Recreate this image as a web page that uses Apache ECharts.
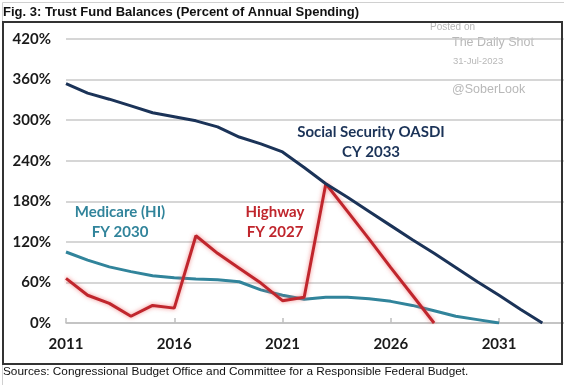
<!DOCTYPE html>
<html>
<head>
<meta charset="utf-8">
<script src="https://cdn.jsdelivr.net/npm/echarts@6/dist/echarts.min.js"></script>
<style>
html,body{margin:0;padding:0;background:#fff;}
#c{width:564px;height:385px;}
</style>
</head>
<body>
<div id="c"></div>
<script>
const years = ['2011','2012','2013','2014','2015','2016','2017','2018','2019','2020','2021','2022','2023','2024','2025','2026','2027','2028','2029','2030','2031','2032','2033','2034'];
const socialSecurity = [354,340,331,321,311,305,299,290,275,265,253,230,206,186,165,144,123,103,82,61,41,20,0,null];
const medicare = [105,93,83,76,70,67,65,64,61,49,41,35,38,38,36,32,26,18,10,5,0,null,null,null];
const highway = [66,41,29,10,26,22,129,103,81,59,33,38,206,165,124,82,41,0,null,null,null,null,null,null];
const yTicks = [0,60,120,180,240,300,360,420];

const chart = echarts.init(document.getElementById('c'), null, {renderer:'canvas'});
const axisFont = 'Lato, "Open Sans", sans-serif';
chart.setOption({
  animation:false,
  backgroundColor:'#fff',
  grid:{left:66, right:0, top:39, bottom:62},
  xAxis:{
    type:'category', data:years, boundaryGap:false,
    axisLine:{show:true, lineStyle:{color:'#bfbfbf', width:1.5}},
    axisTick:{show:true, inside:true, length:5, interval:4, lineStyle:{color:'#bfbfbf', width:1.5}},
    axisLabel:{interval:4, color:'#1a1a1a', fontFamily:axisFont, fontWeight:'bold', fontSize:15, margin:14},
    splitLine:{show:false}
  },
  yAxis:{
    type:'value', min:yTicks[0], max:yTicks[yTicks.length-1], interval:60,
    axisLine:{show:false}, axisTick:{show:false},
    axisLabel:{formatter:'{value}%', color:'#1a1a1a', fontFamily:axisFont, fontWeight:'bold', fontSize:15, margin:15},
    splitLine:{lineStyle:{color:'#c8c8c8', width:1.5}}
  },
  series:[
    {name:'Medicare (HI)', type:'line', data:medicare, symbol:'none', smooth:false,
     lineStyle:{color:'#31849b', width:3}},
    {name:'Highway', type:'line', data:highway, symbol:'none',
     lineStyle:{color:'#c0262d', width:3, shadowColor:'rgba(235,90,90,0.7)', shadowBlur:4}},
    {name:'Social Security OASDI', type:'line', data:socialSecurity, symbol:'none',
     lineStyle:{color:'#1b3358', width:3}}
  ],
  graphic:[
    {type:'rect', left:0, top:0, shape:{x:0.5,y:0.5,width:563,height:384}, style:{fill:null, stroke:'#d0d0d0', lineWidth:1}, silent:true},
    {type:'rect', shape:{x:3,y:22,width:559,height:342}, style:{fill:null, stroke:'#333', lineWidth:2}, silent:true, z:100},
    {type:'text', x:3, y:6, style:{text:'Fig. 3: Trust Fund Balances (Percent of Annual Spending)', font:'bold 13px "Liberation Sans", Arial, sans-serif', fill:'#111'}},
    {type:'text', x:3, y:366, style:{text:'Sources: Congressional Budget Office and Committee for a Responsible Federal Budget.', font:'11.8px "Liberation Sans", Arial, sans-serif', fill:'#111'}},
    {type:'text', x:430, y:22, style:{text:'Posted on', font:'10px "Liberation Sans", Arial, sans-serif', fill:'#b8b8b8'}},
    {type:'text', x:452, y:36, style:{text:'The Daily Shot', font:'12.5px "Liberation Sans", Arial, sans-serif', fill:'#b8b8b8'}},
    {type:'text', x:453, y:56, style:{text:'31-Jul-2023', font:'9.5px "Liberation Sans", Arial, sans-serif', fill:'#b8b8b8'}},
    {type:'text', x:452, y:83, style:{text:'@SoberLook', font:'12.5px "Liberation Sans", Arial, sans-serif', fill:'#b8b8b8'}},
    {type:'text', x:371, y:142, style:{text:'Social Security OASDI\nCY 2033', font:'bold 15px Lato, sans-serif', fill:'#1b3358', align:'center', verticalAlign:'middle', lineHeight:20}},
    {type:'text', x:120, y:222, style:{text:'Medicare (HI)\nFY 2030', font:'bold 15px Lato, sans-serif', fill:'#31849b', align:'center', verticalAlign:'middle', lineHeight:20}},
    {type:'text', x:275, y:222, style:{text:'Highway\nFY 2027', font:'bold 15px Lato, sans-serif', fill:'#c0262d', align:'center', verticalAlign:'middle', lineHeight:20}}
  ]
});
</script>
</body>
</html>
